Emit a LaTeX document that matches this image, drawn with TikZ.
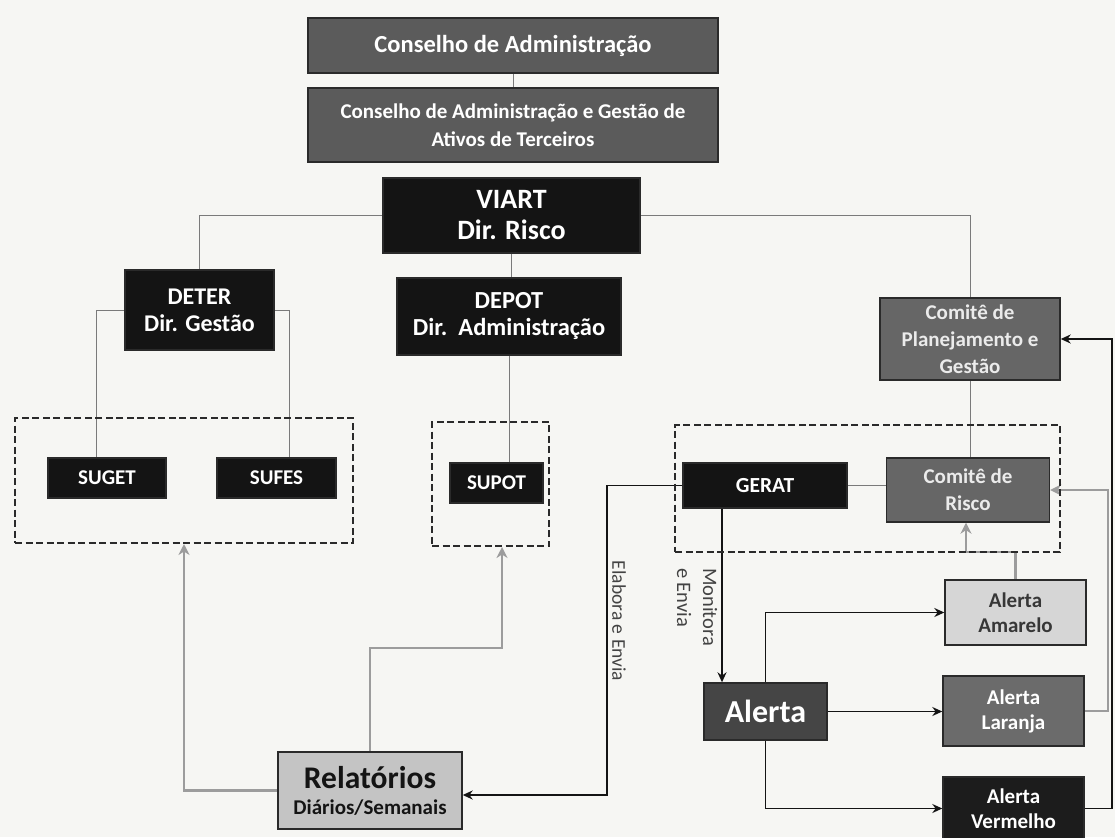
\documentclass[tikz,border=0pt]{standalone}
\usepackage{fontspec}
\setmainfont{Carlito}
\usetikzlibrary{arrows.meta,positioning}
\pgfdeclarelayer{bg}
\pgfdeclarelayer{wires}
\pgfsetlayers{bg,wires,main}

\definecolor{paper}{HTML}{F6F6F3}
\definecolor{board}{HTML}{5B5B5B}
\definecolor{ink}{HTML}{141414}
\definecolor{comite}{HTML}{666666}
\definecolor{alertc}{HTML}{454545}
\definecolor{orangec}{HTML}{6B6B6B}
\definecolor{redc}{HTML}{1C1C1C}
\definecolor{yellowc}{HTML}{D6D6D6}
\definecolor{reportc}{HTML}{C4C4C4}
\definecolor{rim}{HTML}{2A2A2A}
\definecolor{feed}{HTML}{9C9C9C}
\definecolor{tree}{HTML}{7A7A7A}

\newcommand\fs[2]{\fontsize{#1}{#2}\selectfont}

\tikzset{
  unit/.style={draw=rim, line width=1.4pt, inner sep=0pt, align=center,
               font=\bfseries, text=white},
  boardbox/.style={unit, fill=board},
  headbox/.style={unit, fill=ink},
  comitebox/.style={unit, fill=comite, text=white!92!black},
  groupbox/.style={draw=rim, line width=2pt, dash pattern=on 7pt off 3.5pt, inner sep=0pt},
  treeline/.style={draw=tree, line width=1pt},
  flow/.style={draw=ink, line width=1.8pt, -{Stealth[length=10pt,width=9pt]}},
  feedback/.style={draw=feed, line width=2.6pt, -{Stealth[length=11pt,width=11pt]}},
  sz/.style 2 args={minimum width=#1pt, minimum height=#2pt},
}

\begin{document}
\begin{tikzpicture}[x=1pt, y=-1pt]
\useasboundingbox (0,0) rectangle (1115,837);
\begin{pgfonlayer}{bg}
  \fill[paper] (0,0) rectangle (1115,837);
\end{pgfonlayer}
\clip (0,0) rectangle (1115,837);

% boards
\node[boardbox, sz={410}{55}, font=\bfseries\fs{24.5}{28}] (cons1) at (513,45.5) {Conselho de Administração};
\node[boardbox, sz={410}{74}, font=\bfseries\fs{21}{28}] (cons2) at (513,125) {Conselho de Administração e Gestão de\\Ativos de Terceiros};

% directorates
\node[headbox, sz={257}{75}, font=\bfseries\fs{28}{31}] (viart) at (511.5,215.5) {VIART\\Dir. Risco};
\node[headbox, sz={149}{80}, font=\bfseries\fs{24}{27}] (deter) at (199.5,310) {DETER\\Dir. Gestão};
\node[headbox, sz={224}{77}, font=\bfseries\fs{24.5}{27}] (depot) at (509,316.5) {DEPOT\\Dir.~~Administração};
\node[comitebox, sz={180}{82}, font=\bfseries\fs{21}{27}] (plan) at (970,339) {Comitê de\\Planejamento e\\Gestão};

% groups
\node[groupbox, sz={338}{125}] (g1) at (184,480.5) {};
\node[groupbox, sz={117}{124}] (g2) at (490.5,484) {};
\node[groupbox, sz={385}{127}] (g3) at (867.5,488.5) {};

% units
\node[headbox, sz={118}{40}, font=\bfseries\fs{21}{24}] (suget) at (107,478) {SUGET};
\node[headbox, sz={119}{40}, font=\bfseries\fs{21}{24}] (sufes) at (276.5,478) {SUFES};
\node[headbox, sz={93}{40}, font=\bfseries\fs{21}{24}] (supot) at (496.5,483) {SUPOT};
\node[headbox, sz={164}{45}, font=\bfseries\fs{21.5}{24}] (gerat) at (765,485.5) {GERAT};
\node[comitebox, sz={163}{64}, font=\bfseries\fs{21}{27}] (risco) at (968,490) {Comitê de\\Risco};

% alerts
\node[unit, fill=alertc, sz={123}{57}, font=\bfseries\fs{32}{34}] (alerta) at (765.5,711.5) {Alerta};
\node[unit, fill=yellowc, text=ink!85, sz={141}{65}, font=\bfseries\fs{21}{25}] (amarelo) at (1015.5,612.5) {Alerta\\Amarelo};
\node[unit, fill=orangec, sz={141}{70}, font=\bfseries\fs{21}{25}] (laranja) at (1013.5,711) {Alerta\\Laranja};
\node[unit, fill=redc, sz={141}{63}, font=\bfseries\fs{21}{25}] (vermelho) at (1013.5,808.5) {Alerta\\Vermelho};

% reports
\node[unit, fill=reportc, text=ink, sz={184}{77}, font=\bfseries\fs{21}{26}] (relat) at (370,790.5)
  {{\fs{31.5}{32}Relatórios}\\{\fs{21}{24}Diários/Semanais}};

% flow labels
\node[rotate=-90, text=ink!80, font=\fs{19.5}{24}] (lbl1) at (619,621) {Elabora e Envia};
\node[rotate=-90, text=ink!80, align=left, font=\fs{20.5}{26}] (lbl2) at (697,607) {Monitora\\e Envia};

\coordinate (ee) at (607,795);
\coordinate (r2) at (502,648);
\coordinate (ab) at (966,552);
\coordinate (lr) at (1108,0);
\coordinate (vr) at (1112,0);

\begin{pgfonlayer}{wires}
  % hierarchy
  \draw[treeline] (cons1.south) -- (cons2.north);
  \draw[treeline] (viart.west) -| (deter.north);
  \draw[treeline] (viart.east) -| (plan.north);
  \draw[treeline] (viart.south) -- (viart.south |- depot.north);
  \draw[treeline] ([xshift=-11pt]suget.north) -- ([xshift=-11pt]suget.north |- deter.center)
        -- ([xshift=13pt]sufes.north |- deter.center) -- ([xshift=13pt]sufes.north);
  \draw[treeline] (depot.south) -- (depot.south |- supot.north);
  \draw[treeline] (plan.south) -- (plan.south |- risco.north);
  \draw[treeline] (gerat.east) -- (gerat.east -| risco.west);

  % reports
  \draw[flow] (gerat.west) -| (ee) -- (ee -| relat.east);
  \draw[feedback] (relat.west) -| (g1.south);
  \draw[feedback] (relat.north) |- (r2) -- (r2 |- g2.south);

  % alerts
  \draw[flow] ([xshift=-43pt]gerat.south) -- ([xshift=-43pt]gerat.south |- alerta.north);
  \draw[flow] (alerta.north) |- (amarelo.west);
  \draw[flow] (alerta.east) -- (alerta.east -| laranja.west);
  \draw[flow] (alerta.south) |- (vermelho.west);

  % escalation to the committees
  \draw[feedback] (amarelo.north) |- (ab) -- (ab |- risco.south);
  \draw[feedback] (laranja.east) -| (lr |- risco.east) -- (risco.east);
  \draw[flow] (vermelho.east) -| (vr |- plan.east) -- (plan.east);
\end{pgfonlayer}
\end{tikzpicture}
\end{document}
